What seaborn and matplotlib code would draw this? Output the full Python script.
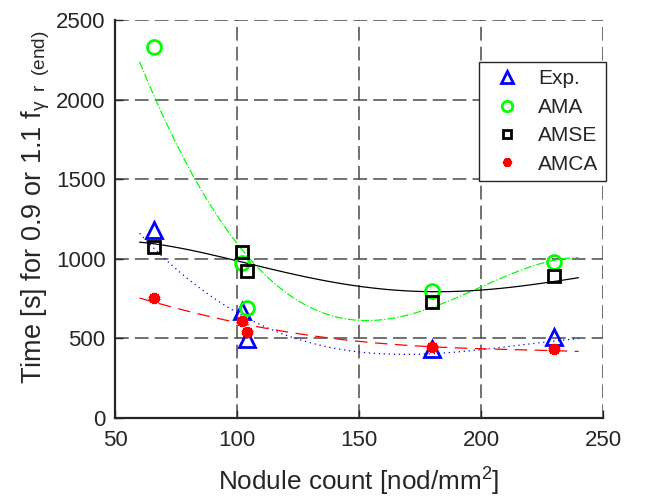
import numpy as np
import pandas as pd
import matplotlib
matplotlib.use("Agg")
import matplotlib.pyplot as plt
import seaborn as sns

nodule_count = [66, 102, 104, 180, 230]
exp_time = [1180, 670, 494, 433, 510]
ama_time = [2332, 973, 691, 798, 979]
amse_time = [1076, 1040, 924, 729, 892]
amca_time = [756, 609, 542, 448, 433]

# trend curves (x, y)
exp_curve_x = [60, 71, 100, 125, 142, 150, 168, 180, 200, 230, 240]
exp_curve_y = [1151, 1006, 653, 496, 430, 416, 403, 406, 428, 478, 502]
ama_curve_x = [60, 67, 84, 100, 115, 125, 142, 150, 155, 168, 180, 200, 230, 240]
ama_curve_y = [2216, 2000, 1500, 1105, 811, 706, 637, 624, 620, 658, 711, 798, 979, 1020]
amse_curve_x = [60, 100, 125, 142, 150, 165, 180, 200, 230, 240]
amse_curve_y = [1105, 985, 897, 852, 826, 800, 793, 802, 863, 878]
amca_curve_x = [60, 100, 128, 142, 150, 180, 200, 230, 240]
amca_curve_y = [754, 597, 527, 494, 480, 447, 434, 426, 416]

series_names = ["Exp.", "AMA", "AMSE", "AMCA"]
series_values = [exp_time, ama_time, amse_time, amca_time]
curves = {
    "Exp.": (exp_curve_x, exp_curve_y),
    "AMA": (ama_curve_x, ama_curve_y),
    "AMSE": (amse_curve_x, amse_curve_y),
    "AMCA": (amca_curve_x, amca_curve_y),
}

df = pd.DataFrame({
    "nodules": nodule_count * len(series_names),
    "time": sum(series_values, []),
    "model": np.repeat(series_names, len(nodule_count)),
})
curve_df = pd.concat([pd.DataFrame({"nodules": cx, "time": cy, "model": name})
                      for name, (cx, cy) in curves.items()], ignore_index=True)

styles = {
    "Exp.": dict(color="#0000ff", marker="^", ls=(0, (1, 3)), ms=11),
    "AMA": dict(color="#00ff00", marker="o", ls="-.", ms=10),
    "AMSE": dict(color="black", marker="s", ls="-", ms=8),
    "AMCA": dict(color="#ff0000", marker=(6, 2, 0), ls=(0, (10, 6)), ms=8),
}

sns.set_style("ticks")
plt.rcParams["font.family"] = ["Liberation Sans", "DejaVu Sans"]
plt.rcParams["mathtext.fontset"] = "custom"
plt.rcParams["mathtext.rm"] = "Liberation Sans"
plt.rcParams["mathtext.it"] = "Liberation Sans:italic"

fig = plt.figure(figsize=(6.47, 5.0), dpi=100)
ax = fig.add_axes([0.178, 0.164, 0.754, 0.796])

# smooth trend lines through the read curve points
for name in series_names:
    st = styles[name]
    sns.regplot(data=curve_df[curve_df["model"] == name], x="nodules", y="time",
                order=4, ci=None, scatter=False, ax=ax,
                line_kws=dict(color=st["color"], ls=st["ls"], lw=0.9))

handles = []
for name in series_names:
    st = styles[name]
    sub = df[df["model"] == name]
    if name == "AMCA":
        h, = ax.plot(sub["nodules"], sub["time"], ls="none", marker=st["marker"],
                     ms=st["ms"], mec=st["color"], mfc=st["color"], mew=3.4,
                     label=name, zorder=5)
    else:
        h, = ax.plot(sub["nodules"], sub["time"], ls="none", marker=st["marker"],
                     ms=st["ms"], mec=st["color"], mfc="none", mew=2,
                     label=name, zorder=5)
    handles.append(h)

ax.set_xlim(50, 250)
ax.set_ylim(0, 2500)
ax.set_xticks([50, 100, 150, 200, 250])
ax.set_yticks([0, 500, 1000, 1500, 2000, 2500])
ax.tick_params(direction="in", length=6, width=1, labelsize=16, colors="#262626")
ax.tick_params(axis="x", pad=9)
ax.tick_params(axis="y", pad=7)
ax.grid(True, ls=(0, (9, 4)), color="#4a4a4a", lw=1.1)
ax.set_axisbelow(True)
for side in ["top", "right"]:
    ax.spines[side].set_visible(False)
for side in ["left", "bottom"]:
    ax.spines[side].set_linewidth(1.6)
    ax.spines[side].set_color("#262626")

ax.set_xlabel("Nodule count [nod/mm$^2$]", fontsize=18.8, color="#262626", labelpad=10)
ax.set_ylabel("Time [s] for 0.9 or 1.1 f$_{\\mathrm{γ\\;\\ r\\;\\ (end)}}$",
              fontsize=19.5, color="#262626", labelpad=3)
ax.yaxis.label.set_y(0.53)

leg = ax.legend(handles=handles, loc="upper right", bbox_to_anchor=(1.006, 0.894),
                borderaxespad=0, fontsize=15, frameon=True, fancybox=False,
                framealpha=1, edgecolor="#262626", handlelength=2.0,
                handletextpad=0.5, labelspacing=0.45, borderpad=0.35,
                markerscale=0.75)
leg.get_frame().set_linewidth(1)

fig.savefig("out.png", dpi=100)
